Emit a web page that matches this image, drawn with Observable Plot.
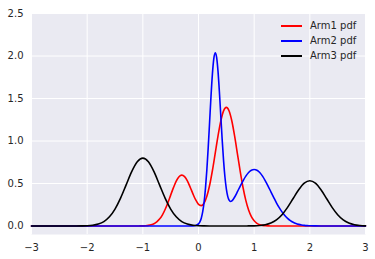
<!DOCTYPE html>
<html>
<head>
<meta charset="utf-8">
<script src="https://cdn.jsdelivr.net/npm/d3@7"></script>
<script src="https://cdn.jsdelivr.net/npm/@observablehq/plot@0.6"></script>
<style>
  html, body { margin: 0; padding: 0; background: #fff; }
  #wrap { position: relative; width: 375px; height: 259px; font-family: "DejaVu Sans", sans-serif; }
  #legend { position: absolute; left: 281px; top: 18px; font-size: 10px; color: #262626; }
  #legend .row { display: flex; align-items: center; height: 15px; }
  #legend .sw { width: 21px; height: 0; border-top: 2px solid; margin-right: 8px; }
</style>
</head>
<body>
<div id="wrap"><div id="legend"></div></div>
<script>
const seriesNames = ["Arm1 pdf", "Arm2 pdf", "Arm3 pdf"];
const seriesColors = ["#ff0000", "#0000ff", "#000000"];
const xTicks = [-3, -2, -1, 0, 1, 2, 3];
const yTicks = [0, 0.5, 1, 1.5, 2, 2.5];

const arm1 = [[-3,0],[-1.1,0],[-1.05,0.001],[-1.0,0.001],[-0.95,0.003],[-0.9,0.007],[-0.85,0.014],[-0.8,0.026],[-0.75,0.048],[-0.7,0.081],[-0.65,0.129],[-0.6,0.194],[-0.55,0.274],[-0.5,0.363],[-0.45,0.451],[-0.4,0.528],[-0.35,0.580],[-0.3,0.599],[-0.25,0.581],[-0.2,0.531],[-0.15,0.458],[-0.1,0.378],[-0.05,0.306],[0,0.255],[0.05,0.240],[0.1,0.270],[0.15,0.350],[0.2,0.479],[0.25,0.653],[0.3,0.854],[0.35,1.057],[0.4,1.233],[0.45,1.354],[0.5,1.396],[0.55,1.353],[0.6,1.232],[0.65,1.054],[0.7,0.847],[0.75,0.639],[0.8,0.453],[0.85,0.302],[0.9,0.189],[0.95,0.111],[1.0,0.061],[1.05,0.032],[1.1,0.015],[1.15,0.007],[1.2,0.003],[1.25,0.001],[1.3,0],[3,0]];

const arm2 = [[-3,0],[-0.2,0],[-0.1,0.002],[-0.05,0.006],[0,0.025],[0.025,0.049],[0.05,0.092],[0.075,0.165],[0.1,0.277],[0.125,0.442],[0.15,0.660],[0.175,0.928],[0.2,1.229],[0.225,1.530],[0.25,1.790],[0.275,1.970],[0.3,2.039],[0.325,1.988],[0.35,1.825],[0.375,1.583],[0.4,1.300],[0.425,1.019],[0.45,0.772],[0.475,0.576],[0.5,0.436],[0.525,0.349],[0.55,0.304],[0.575,0.289],[0.6,0.295],[0.625,0.315],[0.65,0.341],[0.7,0.404],[0.75,0.470],[0.8,0.532],[0.85,0.587],[0.9,0.629],[0.95,0.656],[1.0,0.665],[1.05,0.656],[1.1,0.629],[1.15,0.587],[1.2,0.532],[1.25,0.470],[1.3,0.403],[1.35,0.337],[1.4,0.273],[1.45,0.216],[1.5,0.166],[1.55,0.124],[1.6,0.090],[1.65,0.064],[1.7,0.044],[1.75,0.029],[1.8,0.019],[1.85,0.012],[1.9,0.007],[1.95,0.004],[2.0,0.003],[2.1,0.001],[2.2,0],[3,0]];

const arm3 = [[-3,0],[-2.2,0],[-2.1,0.001],[-2.0,0.003],[-1.9,0.009],[-1.8,0.023],[-1.7,0.052],[-1.6,0.108],[-1.5,0.199],[-1.4,0.328],[-1.3,0.484],[-1.2,0.639],[-1.1,0.755],[-1.0,0.798],[-0.9,0.755],[-0.8,0.639],[-0.7,0.484],[-0.6,0.328],[-0.5,0.199],[-0.4,0.108],[-0.3,0.052],[-0.2,0.023],[-0.1,0.009],[0,0.003],[0.1,0.001],[0.2,0],[0.8,0],[0.9,0.001],[1.0,0.002],[1.1,0.006],[1.2,0.015],[1.3,0.035],[1.4,0.072],[1.5,0.133],[1.6,0.219],[1.7,0.323],[1.8,0.426],[1.9,0.503],[2.0,0.532],[2.1,0.503],[2.2,0.426],[2.3,0.323],[2.4,0.219],[2.5,0.133],[2.6,0.072],[2.7,0.035],[2.8,0.015],[2.9,0.006],[3.0,0.002]];

const allSeries = [arm1, arm2, arm3];
const minus = d => (d < 0 ? "\u2212" + Math.abs(d) : String(d));

const chart = Plot.plot({
  width: 375,
  height: 259,
  marginLeft: 31,
  marginRight: 10,
  marginTop: 13,
  marginBottom: 25,
  style: { fontFamily: "DejaVu Sans, sans-serif", fontSize: "10px", color: "#262626", background: "transparent" },
  x: { domain: [-3, 3] },
  y: { domain: [-0.1, 2.5] },
  marks: [
    Plot.frame({ fill: "#EAEAF2", stroke: null }),
    Plot.gridX(xTicks, { stroke: "#ffffff", strokeOpacity: 1, strokeWidth: 1 }),
    Plot.gridY(yTicks, { stroke: "#ffffff", strokeOpacity: 1, strokeWidth: 1 }),
    ...allSeries.map((s, i) => Plot.line(s, {
      x: d => d[0], y: d => d[1],
      stroke: seriesColors[i], strokeWidth: 1.6, curve: "monotone-x"
    })),
    Plot.axisX(xTicks, { tickSize: 0, tickPadding: 9, tickFormat: minus, label: null, fill: "#262626" }),
    Plot.axisY(yTicks, { tickSize: 0, tickPadding: 8, tickFormat: d3.format(".1f"), label: null, fill: "#262626" })
  ]
});

const wrap = document.getElementById("wrap");
wrap.insertBefore(chart, wrap.firstChild);
const legend = document.getElementById("legend");
seriesNames.forEach((name, i) => {
  const row = document.createElement("div");
  row.className = "row";
  const sw = document.createElement("span");
  sw.className = "sw";
  sw.style.borderTopColor = seriesColors[i];
  const label = document.createElement("span");
  label.textContent = name;
  row.appendChild(sw);
  row.appendChild(label);
  legend.appendChild(row);
});
</script>
</body>
</html>
